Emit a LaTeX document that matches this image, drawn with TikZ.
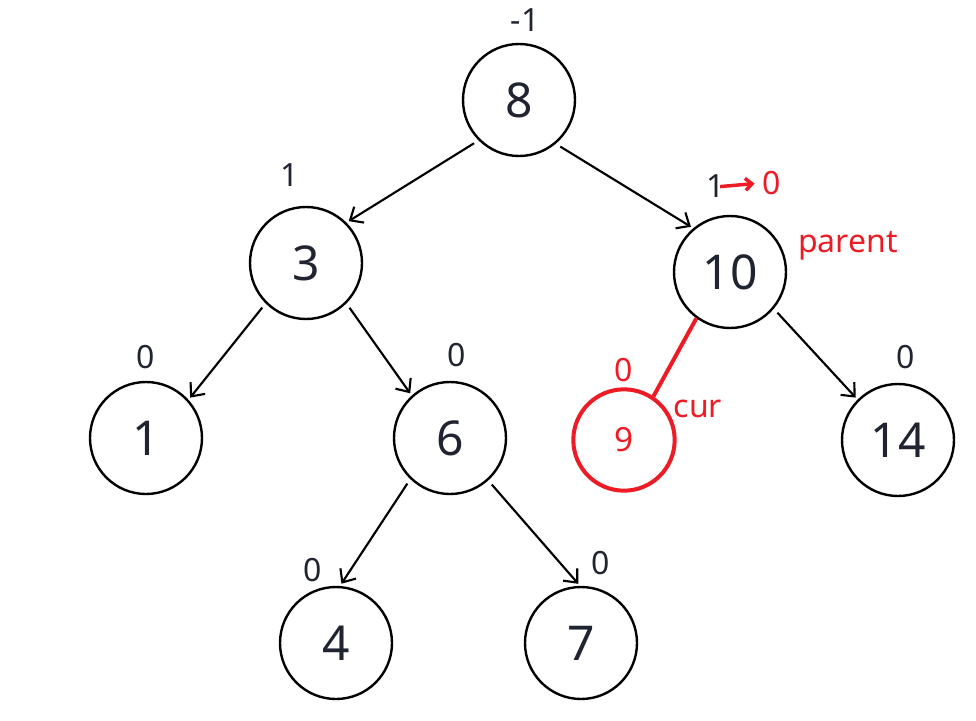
\documentclass[tikz,border=0pt]{standalone}
\usepackage{fontspec}
\setmainfont{Noto Sans}
\usepackage{tikz}
\usetikzlibrary{arrows.meta}
\definecolor{TreeInk}{HTML}{1F2430}
\definecolor{MarkRed}{HTML}{ED1C24}

\begin{document}
\begin{tikzpicture}[x=.75pt,y=-.75pt,
  nd/.style={circle,draw=black,line width=1.8pt,minimum size=84pt,inner sep=0pt,text=TreeInk,font=\fontsize{36}{40}\selectfont},
  bal/.style={text=TreeInk,inner sep=1pt,font=\fontsize{24}{28}\selectfont},
  note/.style={text=MarkRed,inner sep=1pt,font=\fontsize{24}{28}\selectfont},
  edge/.style={-{Straight Barb[length=8pt,width=14pt]},line width=1.6pt,shorten <=4pt,shorten >=2pt}]
\useasboundingbox (0,0) rectangle (976,721);
\node[nd] (n8) at (519,100) {8};
\node[nd] (n3) at (306,263) {3};
\node[nd] (n10) at (730,272) {10};
\node[nd] (n1) at (146,438) {1};
\node[nd] (n6) at (450,438) {6};
\node[nd,draw=MarkRed,line width=3pt,minimum size=76pt,text=MarkRed,font=\fontsize{25}{28}\selectfont] (n9) at (624,440) {9};
\node[nd] (n14) at (898,440) {14};
\node[nd] (n4) at (336,643) {4};
\node[nd] (n7) at (581,643) {7};
\node[bal] (b8) at (525,20) {-1};
\node[bal] (b3) at (290,175) {1};
\node[bal] (b10) at (716,186) {1};
\node[note] (b10n) at (772,183) {0};
\node[note] (lp) at (848,246) {parent};
\node[bal] (b1) at (146,357) {0};
\node[bal] (b6) at (457,355) {0};
\node[note] (b9) at (624,370) {0};
\node[note] (lc) at (698,409) {cur};
\node[bal] (b14) at (906,357) {0};
\node[bal] (b4) at (313,570) {0};
\node[bal] (b7) at (601,563) {0};
\foreach \a/\b in {n8.225/n3.45,n8.310/n10.130,n3.225/n1.42,n3.315/n6.132,n10.320/n14.135,n6.226/n4.86,n6.312/n7.91}{\draw[edge] (\a)--(\b);}
\draw[MarkRed,line width=3pt] (n10.234)--(n9.56);
\draw[MarkRed,line width=2.6pt,-{Straight Barb[length=5pt,width=9pt]},shorten <=-5pt,shorten >=5pt] (b10.east)--(b10n.west);
\end{tikzpicture}
\end{document}
